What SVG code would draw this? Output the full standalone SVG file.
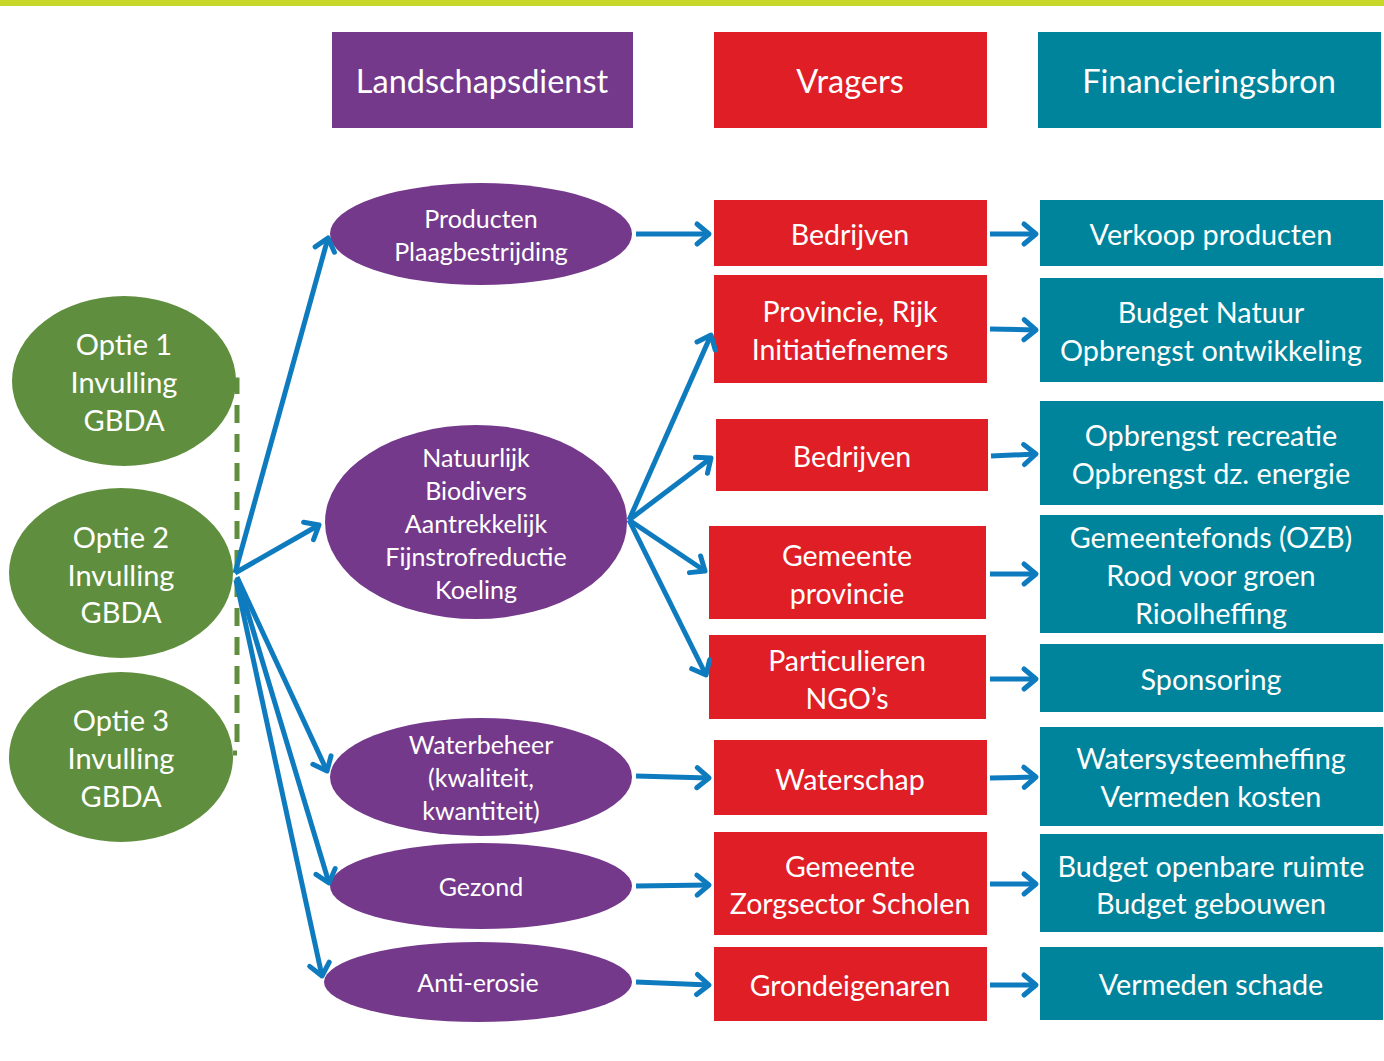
<svg xmlns="http://www.w3.org/2000/svg" width="1384" height="1061" viewBox="0 0 1384 1061">
<defs>
<style>
text{font-family:Lato,"Open Sans","Noto Sans",sans-serif;fill:#fff;text-anchor:middle;dominant-baseline:central}
.h{font-size:32.5px}
.g{font-size:29px}
.p{font-size:25px}
.r{font-size:28.5px}
.t{font-size:28.8px}
.green{fill:#5f8f3e}
.purple{fill:#74398b}
.red{fill:#e01e26}
.teal{fill:#00849b}
.c{stroke:#0f7bbf;stroke-width:5;fill:none;marker-end:url(#ah)}
</style>
<marker id="ah" markerUnits="userSpaceOnUse" markerWidth="40" markerHeight="40" viewBox="-20 -20 40 40" refX="0" refY="0" orient="auto" overflow="visible">
<path d="M-12,-10 L0,0 L-12,10" fill="none" stroke="#0f7bbf" stroke-width="5" stroke-linecap="round" stroke-linejoin="round"/>
</marker>
</defs>
<rect x="0" y="0" width="1384" height="6" fill="#c8d82a"/>

<g id="header-landschapsdienst"><rect class="purple" x="332" y="32" width="301" height="96"/><text class="h" x="482" y="80">Landschapsdienst</text></g>
<g id="header-vragers"><rect class="red" x="714" y="32" width="273" height="96"/><text class="h" x="850" y="80">Vragers</text></g>
<g id="header-financieringsbron"><rect class="teal" x="1038" y="32" width="343" height="96"/><text class="h" x="1209" y="80">Financieringsbron</text></g>

<g id="optie1"><ellipse class="green" cx="124" cy="381" rx="112" ry="85"/><text class="g" x="124" y="343">Optie 1</text><text class="g" x="124" y="381">Invulling</text><text class="g" x="124" y="419">GBDA</text></g>
<g id="optie2"><ellipse class="green" cx="121" cy="573" rx="112" ry="85"/><text class="g" x="121" y="536">Optie 2</text><text class="g" x="121" y="574">Invulling</text><text class="g" x="121" y="611">GBDA</text></g>
<g id="optie3"><ellipse class="green" cx="121" cy="757" rx="112" ry="85"/><text class="g" x="121" y="719">Optie 3</text><text class="g" x="121" y="757">Invulling</text><text class="g" x="121" y="795">GBDA</text></g>

<g id="ld-producten"><ellipse class="purple" cx="481" cy="234" rx="151" ry="51"/><text class="p" x="481" y="218">Producten</text><text class="p" x="481" y="251">Plaagbestrijding</text></g>
<g id="ld-natuurlijk"><ellipse class="purple" cx="476" cy="522" rx="151" ry="97"/><text class="p" x="476" y="457">Natuurlijk</text><text class="p" x="476" y="490">Biodivers</text><text class="p" x="476" y="523">Aantrekkelijk</text><text class="p" x="476" y="556">Fijnstrofreductie</text><text class="p" x="476" y="589">Koeling</text></g>
<g id="ld-waterbeheer"><ellipse class="purple" cx="481" cy="777" rx="151" ry="59"/><text class="p" x="481" y="744">Waterbeheer</text><text class="p" x="481" y="777">(kwaliteit,</text><text class="p" x="481" y="810">kwantiteit)</text></g>
<g id="ld-gezond"><ellipse class="purple" cx="481" cy="886" rx="151" ry="43"/><text class="p" x="481" y="886">Gezond</text></g>
<g id="ld-antierosie"><ellipse class="purple" cx="478" cy="982" rx="154" ry="40"/><text class="p" x="478" y="982">Anti-erosie</text></g>

<g id="v-bedrijven1"><rect class="red" x="714" y="200" width="273" height="66"/><text class="r" x="850" y="234">Bedrijven</text></g>
<g id="v-provincie"><rect class="red" x="714" y="275" width="273" height="108"/><text class="r" x="850" y="311">Provincie, Rijk</text><text class="r" x="850" y="349">Initiatiefnemers</text></g>
<g id="v-bedrijven2"><rect class="red" x="716" y="419" width="272" height="72"/><text class="r" x="852" y="456">Bedrijven</text></g>
<g id="v-gemeente"><rect class="red" x="709" y="526" width="277" height="93"/><text class="r" x="847" y="555">Gemeente</text><text class="r" x="847" y="593">provincie</text></g>
<g id="v-particulieren"><rect class="red" x="709" y="635" width="277" height="84"/><text class="r" x="847" y="660">Particulieren</text><text class="r" x="847" y="698">NGO’s</text></g>
<g id="v-waterschap"><rect class="red" x="714" y="740" width="273" height="75"/><text class="r" x="850" y="779">Waterschap</text></g>
<g id="v-gemeente2"><rect class="red" x="714" y="832" width="273" height="103"/><text class="r" x="850" y="866">Gemeente</text><text class="r" x="850" y="903">Zorgsector Scholen</text></g>
<g id="v-grondeigenaren"><rect class="red" x="714" y="947" width="273" height="74"/><text class="r" x="850" y="985">Grondeigenaren</text></g>

<g id="f-verkoop"><rect class="teal" x="1040" y="200" width="343" height="66"/><text class="t" x="1211" y="234">Verkoop producten</text></g>
<g id="f-budgetnatuur"><rect class="teal" x="1040" y="278" width="343" height="104"/><text class="t" x="1211" y="312">Budget Natuur</text><text class="t" x="1211" y="350">Opbrengst ontwikkeling</text></g>
<g id="f-recreatie"><rect class="teal" x="1040" y="401" width="343" height="104"/><text class="t" x="1211" y="435">Opbrengst recreatie</text><text class="t" x="1211" y="473">Opbrengst dz. energie</text></g>
<g id="f-gemeentefonds"><rect class="teal" x="1040" y="515" width="343" height="118"/><text class="t" x="1211" y="537">Gemeentefonds (OZB)</text><text class="t" x="1211" y="575">Rood voor groen</text><text class="t" x="1211" y="613">Rioolheffing</text></g>
<g id="f-sponsoring"><rect class="teal" x="1040" y="644" width="343" height="68"/><text class="t" x="1211" y="679">Sponsoring</text></g>
<g id="f-watersysteem"><rect class="teal" x="1040" y="727" width="343" height="99"/><text class="t" x="1211" y="758">Watersysteemheffing</text><text class="t" x="1211" y="796">Vermeden kosten</text></g>
<g id="f-budgetopenbaar"><rect class="teal" x="1040" y="834" width="343" height="98"/><text class="t" x="1211" y="866">Budget openbare ruimte</text><text class="t" x="1211" y="903">Budget gebouwen</text></g>
<g id="f-vermedenschade"><rect class="teal" x="1040" y="947" width="343" height="73"/><text class="t" x="1211" y="984">Vermeden schade</text></g>

<g id="connectors">
<path d="M233,380 H237 V753 H233" fill="none" stroke="#5f8f3e" stroke-width="5" stroke-dasharray="18,11"/>
<path class="c" d="M235,573 L328,238"/>
<path class="c" d="M235,573 L319,525"/>
<path class="c" d="M237,577 L327,771"/>
<path class="c" d="M238,580 L329,883"/>
<path class="c" d="M236,580 L322,976"/>
<path class="c" d="M629,520 L711,335"/>
<path class="c" d="M629,520 L711,458"/>
<path class="c" d="M629,520 L705,571"/>
<path class="c" d="M629,520 L706,675"/>
<path class="c" d="M636,234 L709,234"/>
<path class="c" d="M636,776 L709,778"/>
<path class="c" d="M636,886 L709,885"/>
<path class="c" d="M636,982 L709,985"/>
<path class="c" d="M990,234 L1036,234"/>
<path class="c" d="M990,329 L1036,330"/>
<path class="c" d="M991,456 L1036,454"/>
<path class="c" d="M990,574 L1036,574"/>
<path class="c" d="M990,679 L1036,679"/>
<path class="c" d="M990,778 L1036,777"/>
<path class="c" d="M990,884 L1036,884"/>
<path class="c" d="M990,985 L1036,985"/>
</g>
</svg>
